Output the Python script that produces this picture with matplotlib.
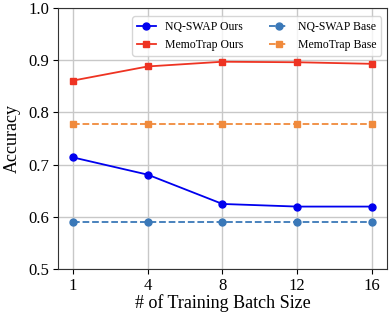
import numpy as np
import matplotlib.pyplot as plt

plt.rcParams['font.family'] = ['Liberation Serif', 'DejaVu Serif']

batch_sizes = ['1', '4', '8', '12', '16']
nq_ours = [0.714, 0.681, 0.625, 0.620, 0.620]
memo_ours = [0.861, 0.888, 0.897, 0.896, 0.893]
nq_base = [0.590, 0.590, 0.590, 0.590, 0.590]
memo_base = [0.778, 0.778, 0.778, 0.778, 0.778]

x = np.arange(len(batch_sizes))

fig, ax = plt.subplots(figsize=(3.9, 3.15), dpi=100)
ax.plot(x, nq_ours, '-o', color='#0000ee', markersize=5, lw=1.3, label='NQ-SWAP Ours')
ax.plot(x, memo_ours, '-s', color='#ee3322', markersize=5, lw=1.3, label='MemoTrap Ours')
ax.plot(x, nq_base, '--o', color='#3a78b8', markersize=5, lw=1.3, label='NQ-SWAP Base')
ax.plot(x, memo_base, '--s', color='#f08a3c', markersize=5, lw=1.3, label='MemoTrap Base')

ax.set_xticks(x)
ax.set_xticklabels(batch_sizes)
ax.set_ylim(0.5, 1.0)
ax.set_yticks([0.5, 0.6, 0.7, 0.8, 0.9, 1.0])
ax.tick_params(labelsize=12, pad=3)
ax.set_xlabel('# of Training Batch Size', fontsize=13, labelpad=0)
ax.set_ylabel('Accuracy', fontsize=13, labelpad=5)
ax.grid(True, color='#c8c8c8', lw=1)
ax.set_axisbelow(True)
for s in ax.spines.values():
    s.set_color('#333333')
ax.legend(ncol=2, loc='upper right', fontsize=8.5, handlelength=1.6, columnspacing=2.2,
          bbox_to_anchor=(1.0, 0.99))

plt.subplots_adjust(left=0.149, right=0.992, top=0.975, bottom=0.145)
plt.savefig('out.png')
